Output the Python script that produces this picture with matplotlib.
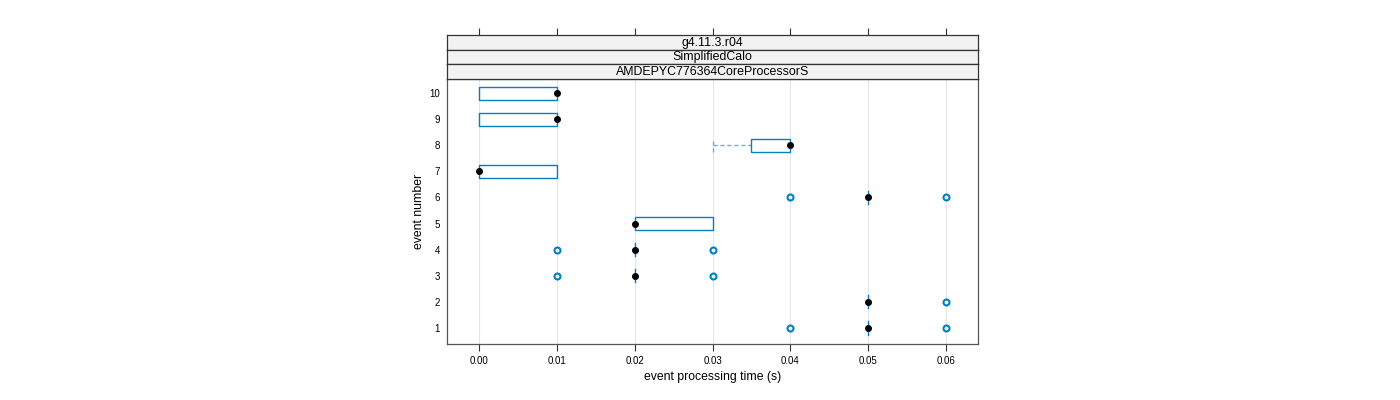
import numpy as np
import matplotlib.pyplot as plt
from matplotlib.patches import Rectangle

plt.rcParams['font.family'] = ['Liberation Sans', 'DejaVu Sans']

events = [1, 2, 3, 4, 5, 6, 7, 8, 9, 10]
lower_whisker = [0.05, 0.05, 0.02, 0.02, 0.02, 0.05, 0.00, 0.03, 0.00, 0.00]
q1 = [0.05, 0.05, 0.02, 0.02, 0.02, 0.05, 0.00, 0.035, 0.00, 0.00]
median = [0.05, 0.05, 0.02, 0.02, 0.02, 0.05, 0.00, 0.04, 0.01, 0.01]
q3 = [0.05, 0.05, 0.02, 0.02, 0.03, 0.05, 0.01, 0.04, 0.01, 0.01]
upper_whisker = [0.05, 0.05, 0.02, 0.02, 0.03, 0.05, 0.01, 0.04, 0.01, 0.01]
outliers = [
    [0.04, 0.06],
    [0.06],
    [0.01, 0.03],
    [0.01, 0.03],
    [],
    [0.04, 0.06],
    [],
    [],
    [],
    [],
]
strip_labels = ["g4.11.3.r04", "SimplifiedCalo", "AMDEPYC776364CoreProcessorS"]
xticks = [0.00, 0.01, 0.02, 0.03, 0.04, 0.05, 0.06]

blue = '#0080c0'
whisker_col = '#66b0dc'
W, H = 1400, 400
fig = plt.figure(figsize=(14, 4), dpi=100)

# panel position in pixels
left, right, bottom, top = 447, 978, 344, 79
ax = fig.add_axes([left / W, 1 - bottom / H, (right - left) / W, (bottom - top) / H])

hw = 0.25
for i, ev in enumerate(events):
    # whiskers
    if lower_whisker[i] < q1[i]:
        ax.plot([lower_whisker[i], q1[i]], [ev, ev], color=whisker_col, ls=(0, (3, 2)), lw=1, zorder=2)
        ax.plot([lower_whisker[i]] * 2, [ev - hw, ev + hw], color=whisker_col, ls=(0, (3, 2)), lw=1, zorder=2)
    if upper_whisker[i] > q3[i]:
        ax.plot([q3[i], upper_whisker[i]], [ev, ev], color=whisker_col, ls=(0, (3, 2)), lw=1, zorder=2)
        ax.plot([upper_whisker[i]] * 2, [ev - hw, ev + hw], color=whisker_col, ls=(0, (3, 2)), lw=1, zorder=2)
    # box
    if q3[i] > q1[i]:
        ax.add_patch(Rectangle((q1[i], ev - hw), q3[i] - q1[i], 2 * hw, fill=False, ec=blue, lw=1, zorder=3))
    else:
        ax.plot([q1[i]] * 2, [ev - hw, ev + hw], color=blue, lw=1, zorder=3)
    # outliers
    if outliers[i]:
        ax.plot(outliers[i], [ev] * len(outliers[i]), 'o', mfc='none', mec=blue, mew=1.5, ms=4.3, zorder=4)
    # median
    ax.plot(median[i], ev, 'o', color='black', ms=4, zorder=5)

ax.set_xlim(-0.0041, 0.0641)
ax.set_ylim(0.387, 10.54)
ax.set_xticks(xticks)
ax.set_xticklabels(['%.2f' % t for t in xticks])
ax.set_yticks(events)
ax.set_yticklabels([str(e) for e in events])
ax.tick_params(axis='x', labelsize=7, length=5, width=0.8, color='#333333', pad=4)
ax.tick_params(axis='y', labelsize=7, length=0, pad=5)
for t in xticks:
    ax.axvline(t, color='#e6e6e6', lw=0.8, zorder=0)
for s in ax.spines.values():
    s.set_color('#555555')
    s.set_linewidth(0.9)
ax.set_xlabel('event processing time (s)', fontsize=8.8, labelpad=3)
ax.set_ylabel('event number', fontsize=8.8, labelpad=3)

# strips
strip_edges = [35, 49.5, 64, 79]
for k, lab in enumerate(strip_labels):
    y0, y1 = strip_edges[k], strip_edges[k + 1]
    sax = fig.add_axes([left / W, 1 - y1 / H, (right - left) / W, (y1 - y0) / H], sharex=ax)
    sax.set_facecolor('#f2f2f2')
    sax.set_yticks([])
    sax.tick_params(axis='x', which='both', bottom=False, labelbottom=False, top=(k == 0),
                    length=5, width=0.8, color='#333333')
    for s in sax.spines.values():
        s.set_color('#333333')
        s.set_linewidth(0.9)
    sax.text(0.5, 0.45, lab, transform=sax.transAxes, ha='center', va='center', fontsize=8.9)

fig.savefig('out.png', dpi=100)
